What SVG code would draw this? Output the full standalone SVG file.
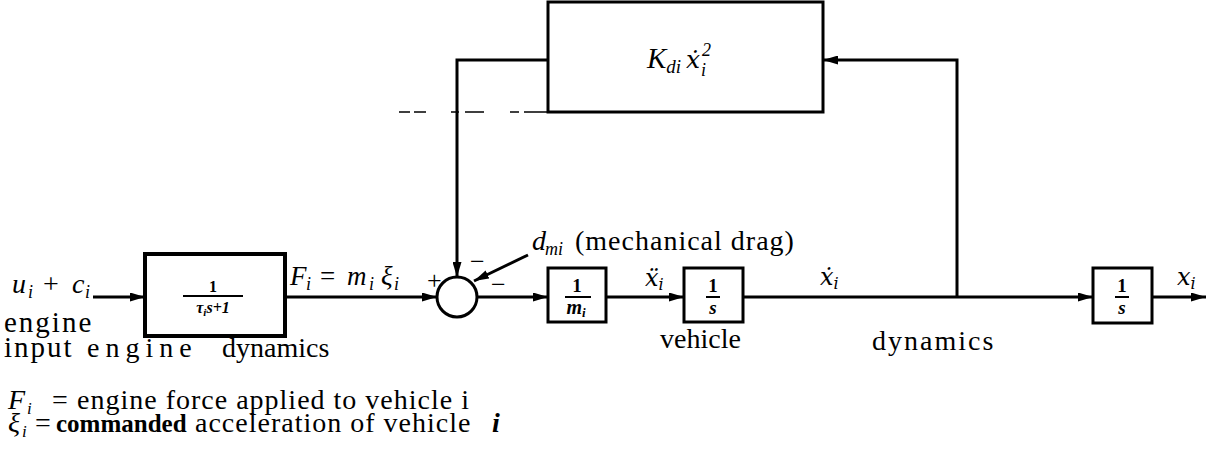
<svg xmlns="http://www.w3.org/2000/svg" width="1230" height="455" viewBox="0 0 1230 455">
<style>
.t{font-family:"Liberation Serif",serif;fill:#000}
.m{font-family:"Liberation Serif",serif;font-style:italic;fill:#000}
.d{font-family:"DejaVu Serif",serif;font-style:italic;fill:#000}
.box{fill:#fff;stroke:#000;stroke-width:3}
.w{fill:none;stroke:#000;stroke-width:3}
.fr{font-family:"Liberation Serif",serif;font-weight:bold;fill:#000;text-anchor:middle}
.bar{stroke:#000;stroke-width:2}
.dash{fill:none;stroke:#000;stroke-width:1.5}
</style>
<defs>
<marker id="ah" markerWidth="15" markerHeight="9" refX="15" refY="4.5" orient="auto" markerUnits="userSpaceOnUse"><path d="M0,0 L15,4.5 L0,9 z" fill="#000"/></marker>
</defs>
<rect width="1230" height="455" fill="#fff"/>

<g id="connectors">
<line class="w" x1="93" y1="297" x2="145" y2="297" marker-end="url(#ah)"/>
<line class="w" x1="285" y1="297" x2="437" y2="297" marker-end="url(#ah)"/>
<line class="w" x1="477" y1="297" x2="548" y2="297" marker-end="url(#ah)"/>
<line class="w" x1="606" y1="297" x2="684" y2="297" marker-end="url(#ah)"/>
<line class="w" x1="743" y1="297" x2="1093" y2="297" marker-end="url(#ah)"/>
<line class="w" x1="1152" y1="297" x2="1206" y2="297" marker-end="url(#ah)"/>
<path class="w" d="M957,297 V60 H823" marker-end="url(#ah)"/>
<path class="w" d="M548,60 H457 V277" marker-end="url(#ah)"/>
<line class="w" x1="528" y1="255" x2="474" y2="281" marker-end="url(#ah)"/>
<path class="dash" d="M399,112 H410 M414,112 H426 M451,112 H459 M465,112 H484 M510,112 H519 M524,112 H548"/>
</g>

<g id="engine">
<rect class="box" x="145" y="254" width="140" height="82" style="stroke-width:4"/>
<text class="fr" x="213" y="292" font-size="16">1</text>
<line class="bar" x1="183" y1="296" x2="243" y2="296"/>
<text class="fr" x="213" y="313" font-size="16" font-style="italic">τ<tspan font-size="11" dy="3">i</tspan><tspan dy="-3">s+1</tspan></text>
</g>

<g id="sum">
<circle cx="457" cy="297" r="20" class="w"/>
</g>

<g id="mass">
<rect class="box" x="548" y="268" width="58" height="54"/>
<text class="fr" x="577" y="292" font-size="19">1</text>
<line class="bar" x1="565" y1="297" x2="591" y2="297"/>
<text class="fr" x="576" y="314" font-size="20" font-style="italic">m<tspan font-size="13" dy="3">i</tspan></text>
</g>

<g id="integrator1">
<rect class="box" x="684" y="268" width="59" height="54"/>
<text class="fr" x="713" y="292" font-size="19">1</text>
<line class="bar" x1="706" y1="297" x2="720" y2="297"/>
<text class="fr" x="713" y="314" font-size="19" font-style="italic">s</text>
</g>

<g id="drag">
<rect class="box" x="548" y="2" width="275" height="110"/>
<text class="m" x="647" y="68" font-size="29">K<tspan font-size="19" dy="5">di</tspan></text>
<text class="d" x="686" y="68" font-size="25">ẋ</text>
<text class="m" x="702" y="56" font-size="18">2</text>
<text class="m" x="701" y="76" font-size="18">i</text>
</g>

<g id="integrator2">
<rect class="box" x="1093" y="268" width="59" height="55"/>
<text class="fr" x="1122" y="292" font-size="19">1</text>
<line class="bar" x1="1115" y1="297" x2="1129" y2="297"/>
<text class="fr" x="1122" y="314" font-size="19" font-style="italic">s</text>
</g>

<g id="labels">
<text class="m" font-size="28" y="293"><tspan x="12">u</tspan><tspan x="28" font-size="18" dy="5">i</tspan><tspan x="43" dy="-5" font-style="normal">+</tspan><tspan x="72">c</tspan><tspan x="85" font-size="18" dy="5">i</tspan></text>
<text class="m" font-size="27" y="285"><tspan x="290">F</tspan><tspan x="306" font-size="18" dy="5">i</tspan><tspan x="320" dy="-5" font-style="normal">=</tspan><tspan x="347">m</tspan><tspan x="369" font-size="18" dy="5">i</tspan><tspan x="381" dy="-5">ξ</tspan><tspan x="394" font-size="18" dy="5">i</tspan></text>
<text class="t" x="427" y="289" font-size="26">+</text>
<text class="t" x="470" y="270" font-size="26">−</text>
<text class="t" x="491" y="293" font-size="26">−</text>
<text class="m" font-size="28" y="250"><tspan x="532">d</tspan><tspan x="545" font-size="18" dy="5">mi</tspan></text>
<text class="t" x="575" y="250" font-size="28" letter-spacing="1">(mechanical drag)</text>
<text class="d" x="645" y="286" font-size="24">ẍ<tspan font-size="16" dy="4">i</tspan></text>
<text class="d" x="820" y="285" font-size="24">ẋ<tspan font-size="16" dy="4">i</tspan></text>
<text class="d" x="1177" y="285" font-size="24">x<tspan font-size="16" dy="4">i</tspan></text>
<text class="t" x="660" y="348" font-size="28">vehicle</text>
<text class="t" x="872" y="350" font-size="28" letter-spacing="2">dynamics</text>
<text class="t" x="4" y="332" font-size="29" letter-spacing="2">engine</text>
<text class="t" y="357" font-size="29"><tspan x="4" letter-spacing="2">input</tspan><tspan x="87" font-size="28" letter-spacing="6">engine</tspan><tspan x="222" font-size="28">dynamics</tspan></text>
<text class="t" y="409" font-size="28"><tspan x="8" font-style="italic">F</tspan><tspan x="27" font-size="17" dy="5" font-style="italic">i</tspan><tspan x="52" dy="-5">=</tspan><tspan x="77" letter-spacing="1">engine force applied to vehicle i</tspan></text>
<text class="t" y="432" font-size="28"><tspan x="8" font-style="italic">ξ</tspan><tspan x="22" font-size="17" dy="5" font-style="italic">i</tspan><tspan x="35" dy="-5">=</tspan><tspan x="56" font-weight="bold" font-size="25">commanded</tspan><tspan x="195" letter-spacing="1">acceleration of vehicle</tspan><tspan x="492" font-weight="bold" font-style="italic">i</tspan></text>
</g>
</svg>
